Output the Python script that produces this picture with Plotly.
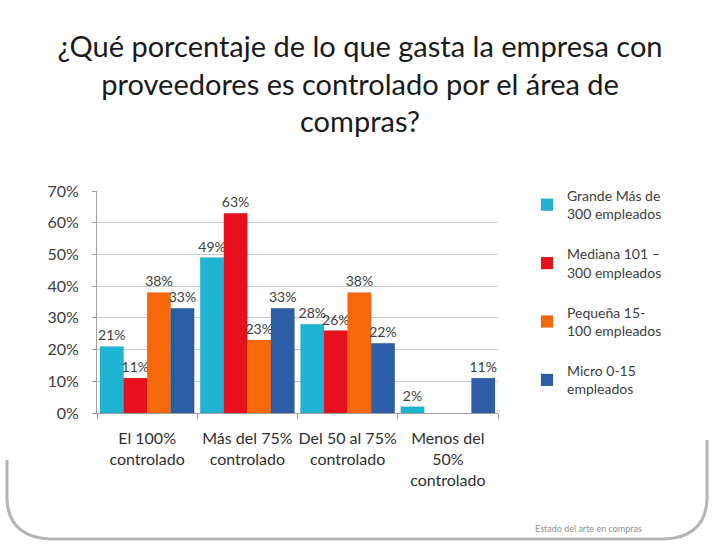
import plotly.graph_objects as go

categories = ["El 100%<br>controlado", "Más del 75%<br>controlado", "Del 50 al 75%<br>controlado", "Menos del<br>50%<br>controlado"]
series_names = ["Grande Más de<br>300 empleados", "Mediana 101 –<br>300 empleados", "Pequeña 15-<br>100 empleados", "Micro 0-15<br>empleados"]
grande = [21, 49, 28, 2]
mediana = [11, 63, 26, None]
pequena = [38, 23, 38, None]
micro = [33, 33, 22, 11]
colors = ["#1fb3d4", "#e8101c", "#f7680a", "#2b5ea6"]
tick_vals = [0, 10, 20, 30, 40, 50, 60, 70]

title = "¿Qué porcentaje de lo que gasta la empresa con<br>proveedores es controlado por el área de<br>compras?"

FONT = "Lato, Open Sans, sans-serif"

fig = go.Figure()
for name, vals, col in zip(series_names, [grande, mediana, pequena, micro], colors):
    fig.add_trace(go.Bar(
        x=categories, y=vals, name=name, legendgroup=name,
        marker=dict(color=col, line=dict(color="rgba(0,0,0,0.15)", width=0.5)),
        text=[f"{v}%" if v is not None else "" for v in vals],
        textposition="outside", cliponaxis=False, constraintext="none",
        textfont=dict(family=FONT, size=14, color="#404040"),
    ))

# pixel -> paper helpers for decorations
L, R, T, B = 97, 498, 191, 413
def px(x):
    return (x - L) / (R - L)
def py(y):
    return (B - y) / (B - T)

fig.update_layout(
    width=713, height=546,
    paper_bgcolor="white", plot_bgcolor="white",
    margin=dict(l=L, r=713 - R, t=T, b=546 - B, autoexpand=False),
    barmode="group", bargap=0.06, bargroupgap=0.0,
    font=dict(family=FONT, color="#404040"),
    yaxis=dict(range=[0, 70], tickvals=tick_vals, ticktext=[f"{v}%" for v in tick_vals],
               showgrid=True, gridcolor="#c8c8c8", gridwidth=1, automargin=False,
               showline=True, linecolor="#a0a0a0", ticks="outside", ticklen=4, tickcolor="#a0a0a0",
               ticklabelstandoff=10,
               tickfont=dict(size=16, color="#404040"), zeroline=False),
    xaxis=dict(showline=True, linecolor="#a0a0a0", ticks="outside", tickson="boundaries",
               automargin=False, tickangle=0, ticklabelstandoff=11,
               ticklen=5, tickcolor="#a0a0a0", tickfont=dict(size=16, color="#303030")),
    legend=dict(x=px(527), y=py(180), xanchor="left", yanchor="top", tracegroupgap=19,
                font=dict(size=14, color="#404040"), itemwidth=30, traceorder="grouped"),
    title=dict(text=title, x=0.505, xanchor="center", y=1 - 57 / 546, yanchor="top",
               font=dict(size=29, color="#1a1a1a", family=FONT)),
)
fig.add_annotation(text="Estado del arte en compras", xref="paper", yref="paper",
                   x=px(533), y=py(528), xanchor="left", yanchor="middle", showarrow=False,
                   font=dict(size=9, color="#909090"))
# card shadow along the bottom
path = (f"M {px(7)} {py(460)} L {px(7)} {py(500)} Q {px(9)} {py(537)} {px(50)} {py(539)} "
        f"L {px(665)} {py(539)} Q {px(705)} {py(537)} {px(707)} {py(500)} L {px(707)} {py(440)}")
fig.add_shape(type="path", xref="paper", yref="paper", path=path,
              line=dict(color="#b4b4b4", width=3), layer="below")

fig.write_html("out.html", post_script="document.body.style.margin='0';",
               config={"displayModeBar": False})
